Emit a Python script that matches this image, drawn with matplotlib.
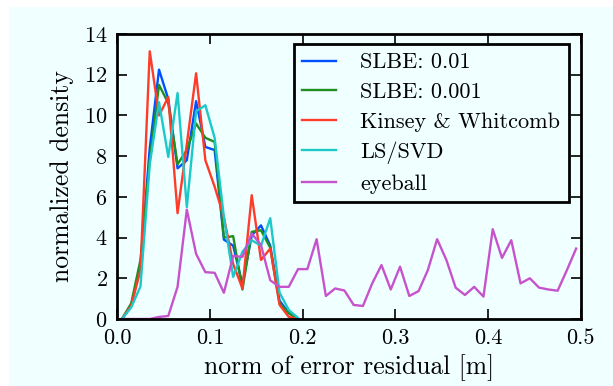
import numpy as np
import matplotlib
matplotlib.use("Agg")
import matplotlib.pyplot as plt
from matplotlib.patches import Rectangle

# --- data: histogram bin centres (bin width 0.01 m) ---
bins_short = np.arange(20) * 0.01 + 0.005
bins_long = np.arange(50) * 0.01 + 0.005

slbe_01 = [0.0, 0.65, 2.6, 8.4, 12.25, 10.8, 7.4, 7.8, 10.7, 8.45,
           8.3, 3.9, 3.6, 1.7, 4.1, 4.6, 3.6, 0.9, 0.3, 0.0]
slbe_001 = [0.0, 0.77, 2.9, 7.8, 11.5, 10.6, 7.6, 8.3, 9.6, 8.9,
            8.7, 4.0, 4.07, 1.45, 4.28, 4.36, 3.5, 0.77, 0.28, 0.0]
kinsey = [0.0, 0.65, 2.4, 13.15, 10.0, 10.9, 5.2, 8.6, 12.07, 7.8,
          6.5, 5.0, 2.7, 1.5, 6.08, 2.9, 3.46, 0.7, 0.1, 0.0]
ls_svd = [0.0, 0.57, 1.6, 7.6, 10.65, 7.96, 11.1, 5.5, 10.2, 10.5,
          8.9, 5.0, 2.07, 3.3, 3.87, 3.6, 4.95, 1.3, 0.44, 0.05]
eyeball = [0.0, 0.0, 0.0, 0.0, 0.1, 0.15, 1.58, 5.37, 3.2, 2.3,
           2.27, 1.29, 3.1, 3.05, 4.2, 3.63, 1.9, 1.58, 1.58, 2.45,
           2.45, 3.92, 1.13, 1.5, 1.4, 0.69, 0.64, 1.75, 2.65, 1.45,
           2.57, 1.13, 1.37, 2.4, 3.92, 2.9, 1.54, 1.18, 1.58, 1.1,
           4.41, 3.0, 3.87, 1.75, 2.0, 1.54, 1.45, 1.39, 2.4, 3.46]

labels = ["SLBE: 0.01", "SLBE: 0.001", "Kinsey & Whitcomb", "LS/SVD", "eyeball"]
colors = ["#0050ff", "#1f8f1f", "#ff3b2a", "#1cc8c8", "#c653cc"]

# --- style ---
plt.rcParams["font.family"] = "serif"
plt.rcParams["font.serif"] = ["cmr10"]
plt.rcParams["mathtext.fontset"] = "cm"
plt.rcParams["axes.formatter.use_mathtext"] = True

bg = "#f0ffff"
fig = plt.figure(figsize=(6.13, 3.86), dpi=100)
fig.patch.set_facecolor("white")
fig.patches.append(Rectangle((9 / 613, 0), 1, (386 - 7) / 386,
                             transform=fig.transFigure, facecolor=bg,
                             edgecolor="none", zorder=-10))

ax = fig.add_axes([117.3 / 613, 67 / 386, 463.5 / 613, 285 / 386])
ax.set_facecolor(bg)

series = [(bins_short, slbe_01), (bins_short, slbe_001), (bins_short, kinsey),
          (bins_short, ls_svd), (bins_long, eyeball)]
for (x, y), lab, c in zip(series, labels, colors):
    ax.plot(x, y, color=c, lw=1.7, label=lab)

ax.set_xlim(0, 0.5)
ax.set_ylim(0, 14)
ax.set_xticks([0.0, 0.1, 0.2, 0.3, 0.4, 0.5])
ax.set_yticks(range(0, 15, 2))
ax.set_xticklabels(["0.0", "0.1", "0.2", "0.3", "0.4", "0.5"])
ax.tick_params(direction="in", top=True, right=True, length=7, width=1.2,
               labelsize=16, pad=7)
for s in ax.spines.values():
    s.set_linewidth(2)

ax.set_xlabel("norm of error residual [m]", fontsize=18.5, labelpad=4)
ax.set_ylabel("normalized density", fontsize=18.5, labelpad=7)

leg = ax.legend(loc="upper right", bbox_to_anchor=(0.9745, 0.965),
                borderaxespad=0, fontsize=16, fancybox=False,
                handlelength=1.5, handletextpad=1.1, labelspacing=0.45,
                borderpad=0.4)
leg.get_frame().set_edgecolor("black")
leg.get_frame().set_linewidth(2)
leg.get_frame().set_facecolor(bg)
leg.get_frame().set_alpha(1)

fig.savefig("out.png", dpi=100, facecolor=fig.get_facecolor())
